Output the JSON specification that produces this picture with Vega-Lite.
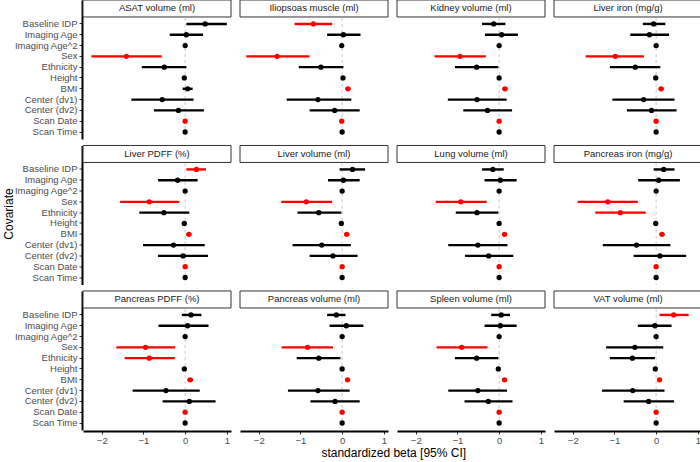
{
  "$schema": "https://vega.github.io/schema/vega-lite/v6.json",
  "padding": {"left": 2, "top": -2, "right": 0, "bottom": 1},
  "background": "white",
  "title": {"text": "standardized beta [95% CI]", "orient": "bottom", "anchor": "middle", "dx": 41, "offset": 3, "fontSize": 12, "fontWeight": "normal", "font": "Liberation Sans", "color": "#000000"},
  "data": {"values": [
    {"p":"ASAT volume (ml)","c":"Baseline IDP","b":0.48,"lo":0.03,"hi":1.0,"s":0},
    {"p":"ASAT volume (ml)","c":"Imaging Age","b":0.03,"lo":-0.37,"hi":0.43,"s":0},
    {"p":"ASAT volume (ml)","c":"Imaging Age^2","b":0,"lo":-0.02,"hi":0.02,"s":0},
    {"p":"ASAT volume (ml)","c":"Sex","b":-1.41,"lo":-2.25,"hi":-0.56,"s":1},
    {"p":"ASAT volume (ml)","c":"Ethnicity","b":-0.5,"lo":-1.04,"hi":0.03,"s":0},
    {"p":"ASAT volume (ml)","c":"Height","b":-0.02,"lo":-0.04,"hi":0.0,"s":0},
    {"p":"ASAT volume (ml)","c":"BMI","b":0.06,"lo":-0.06,"hi":0.18,"s":0},
    {"p":"ASAT volume (ml)","c":"Center (dv1)","b":-0.55,"lo":-1.29,"hi":0.2,"s":0},
    {"p":"ASAT volume (ml)","c":"Center (dv2)","b":-0.16,"lo":-0.75,"hi":0.45,"s":0},
    {"p":"ASAT volume (ml)","c":"Scan Date","b":0,"lo":-0.02,"hi":0.02,"s":1},
    {"p":"ASAT volume (ml)","c":"Scan Time","b":0,"lo":-0.02,"hi":0.02,"s":0},

    {"p":"Iliopsoas muscle (ml)","c":"Baseline IDP","b":-0.69,"lo":-1.14,"hi":-0.24,"s":1},
    {"p":"Iliopsoas muscle (ml)","c":"Imaging Age","b":0.03,"lo":-0.36,"hi":0.44,"s":0},
    {"p":"Iliopsoas muscle (ml)","c":"Imaging Age^2","b":-0.01,"lo":-0.03,"hi":0.01,"s":0},
    {"p":"Iliopsoas muscle (ml)","c":"Sex","b":-1.56,"lo":-2.3,"hi":-0.78,"s":1},
    {"p":"Iliopsoas muscle (ml)","c":"Ethnicity","b":-0.51,"lo":-1.04,"hi":0.03,"s":0},
    {"p":"Iliopsoas muscle (ml)","c":"Height","b":0.02,"lo":0.0,"hi":0.04,"s":0},
    {"p":"Iliopsoas muscle (ml)","c":"BMI","b":0.14,"lo":0.08,"hi":0.2,"s":1},
    {"p":"Iliopsoas muscle (ml)","c":"Center (dv1)","b":-0.58,"lo":-1.33,"hi":0.22,"s":0},
    {"p":"Iliopsoas muscle (ml)","c":"Center (dv2)","b":-0.18,"lo":-0.78,"hi":0.42,"s":0},
    {"p":"Iliopsoas muscle (ml)","c":"Scan Date","b":-0.01,"lo":-0.03,"hi":0.01,"s":1},
    {"p":"Iliopsoas muscle (ml)","c":"Scan Time","b":0,"lo":-0.02,"hi":0.02,"s":0},

    {"p":"Kidney volume (ml)","c":"Baseline IDP","b":-0.13,"lo":-0.41,"hi":0.15,"s":0},
    {"p":"Kidney volume (ml)","c":"Imaging Age","b":0.06,"lo":-0.34,"hi":0.45,"s":0},
    {"p":"Kidney volume (ml)","c":"Imaging Age^2","b":0,"lo":-0.02,"hi":0.02,"s":0},
    {"p":"Kidney volume (ml)","c":"Sex","b":-0.94,"lo":-1.55,"hi":-0.32,"s":1},
    {"p":"Kidney volume (ml)","c":"Ethnicity","b":-0.54,"lo":-1.06,"hi":-0.02,"s":0},
    {"p":"Kidney volume (ml)","c":"Height","b":0,"lo":-0.02,"hi":0.02,"s":0},
    {"p":"Kidney volume (ml)","c":"BMI","b":0.14,"lo":0.08,"hi":0.2,"s":1},
    {"p":"Kidney volume (ml)","c":"Center (dv1)","b":-0.53,"lo":-1.23,"hi":0.18,"s":0},
    {"p":"Kidney volume (ml)","c":"Center (dv2)","b":-0.28,"lo":-0.86,"hi":0.31,"s":0},
    {"p":"Kidney volume (ml)","c":"Scan Date","b":0,"lo":-0.02,"hi":0.02,"s":1},
    {"p":"Kidney volume (ml)","c":"Scan Time","b":0,"lo":-0.02,"hi":0.02,"s":0},

    {"p":"Liver iron (mg/g)","c":"Baseline IDP","b":-0.06,"lo":-0.32,"hi":0.22,"s":0},
    {"p":"Liver iron (mg/g)","c":"Imaging Age","b":-0.16,"lo":-0.62,"hi":0.31,"s":0},
    {"p":"Liver iron (mg/g)","c":"Imaging Age^2","b":0,"lo":-0.02,"hi":0.02,"s":0},
    {"p":"Liver iron (mg/g)","c":"Sex","b":-0.98,"lo":-1.69,"hi":-0.29,"s":1},
    {"p":"Liver iron (mg/g)","c":"Ethnicity","b":-0.5,"lo":-1.11,"hi":0.1,"s":0},
    {"p":"Liver iron (mg/g)","c":"Height","b":-0.01,"lo":-0.03,"hi":0.01,"s":0},
    {"p":"Liver iron (mg/g)","c":"BMI","b":0.12,"lo":0.06,"hi":0.18,"s":1},
    {"p":"Liver iron (mg/g)","c":"Center (dv1)","b":-0.3,"lo":-1.05,"hi":0.44,"s":0},
    {"p":"Liver iron (mg/g)","c":"Center (dv2)","b":-0.11,"lo":-0.7,"hi":0.49,"s":0},
    {"p":"Liver iron (mg/g)","c":"Scan Date","b":0,"lo":-0.02,"hi":0.02,"s":1},
    {"p":"Liver iron (mg/g)","c":"Scan Time","b":0,"lo":-0.02,"hi":0.02,"s":0},

    {"p":"Liver PDFF (%)","c":"Baseline IDP","b":0.27,"lo":0.03,"hi":0.5,"s":1},
    {"p":"Liver PDFF (%)","c":"Imaging Age","b":-0.18,"lo":-0.65,"hi":0.3,"s":0},
    {"p":"Liver PDFF (%)","c":"Imaging Age^2","b":0,"lo":-0.02,"hi":0.02,"s":0},
    {"p":"Liver PDFF (%)","c":"Sex","b":-0.86,"lo":-1.56,"hi":-0.14,"s":1},
    {"p":"Liver PDFF (%)","c":"Ethnicity","b":-0.51,"lo":-1.1,"hi":0.1,"s":0},
    {"p":"Liver PDFF (%)","c":"Height","b":-0.02,"lo":-0.04,"hi":0.0,"s":0},
    {"p":"Liver PDFF (%)","c":"BMI","b":0.09,"lo":0.03,"hi":0.15,"s":1},
    {"p":"Liver PDFF (%)","c":"Center (dv1)","b":-0.28,"lo":-1.01,"hi":0.47,"s":0},
    {"p":"Liver PDFF (%)","c":"Center (dv2)","b":-0.05,"lo":-0.65,"hi":0.55,"s":0},
    {"p":"Liver PDFF (%)","c":"Scan Date","b":0,"lo":-0.02,"hi":0.02,"s":1},
    {"p":"Liver PDFF (%)","c":"Scan Time","b":0,"lo":-0.02,"hi":0.02,"s":0},

    {"p":"Liver volume (ml)","c":"Baseline IDP","b":0.25,"lo":-0.06,"hi":0.55,"s":0},
    {"p":"Liver volume (ml)","c":"Imaging Age","b":0.03,"lo":-0.34,"hi":0.42,"s":0},
    {"p":"Liver volume (ml)","c":"Imaging Age^2","b":0,"lo":-0.02,"hi":0.02,"s":0},
    {"p":"Liver volume (ml)","c":"Sex","b":-0.86,"lo":-1.46,"hi":-0.24,"s":1},
    {"p":"Liver volume (ml)","c":"Ethnicity","b":-0.56,"lo":-1.07,"hi":-0.02,"s":0},
    {"p":"Liver volume (ml)","c":"Height","b":-0.02,"lo":-0.04,"hi":0.0,"s":0},
    {"p":"Liver volume (ml)","c":"BMI","b":0.11,"lo":0.05,"hi":0.17,"s":1},
    {"p":"Liver volume (ml)","c":"Center (dv1)","b":-0.49,"lo":-1.19,"hi":0.21,"s":0},
    {"p":"Liver volume (ml)","c":"Center (dv2)","b":-0.22,"lo":-0.78,"hi":0.37,"s":0},
    {"p":"Liver volume (ml)","c":"Scan Date","b":0,"lo":-0.02,"hi":0.02,"s":1},
    {"p":"Liver volume (ml)","c":"Scan Time","b":0,"lo":-0.02,"hi":0.02,"s":0},

    {"p":"Lung volume (ml)","c":"Baseline IDP","b":-0.15,"lo":-0.41,"hi":0.11,"s":0},
    {"p":"Lung volume (ml)","c":"Imaging Age","b":0.03,"lo":-0.35,"hi":0.42,"s":0},
    {"p":"Lung volume (ml)","c":"Imaging Age^2","b":0,"lo":-0.02,"hi":0.02,"s":0},
    {"p":"Lung volume (ml)","c":"Sex","b":-0.92,"lo":-1.52,"hi":-0.3,"s":1},
    {"p":"Lung volume (ml)","c":"Ethnicity","b":-0.53,"lo":-1.04,"hi":-0.02,"s":0},
    {"p":"Lung volume (ml)","c":"Height","b":0,"lo":-0.02,"hi":0.02,"s":0},
    {"p":"Lung volume (ml)","c":"BMI","b":0.13,"lo":0.07,"hi":0.19,"s":1},
    {"p":"Lung volume (ml)","c":"Center (dv1)","b":-0.51,"lo":-1.22,"hi":0.2,"s":0},
    {"p":"Lung volume (ml)","c":"Center (dv2)","b":-0.25,"lo":-0.82,"hi":0.34,"s":0},
    {"p":"Lung volume (ml)","c":"Scan Date","b":0,"lo":-0.02,"hi":0.02,"s":1},
    {"p":"Lung volume (ml)","c":"Scan Time","b":0,"lo":-0.02,"hi":0.02,"s":0},

    {"p":"Pancreas iron (mg/g)","c":"Baseline IDP","b":0.18,"lo":-0.06,"hi":0.44,"s":0},
    {"p":"Pancreas iron (mg/g)","c":"Imaging Age","b":0.06,"lo":-0.43,"hi":0.57,"s":0},
    {"p":"Pancreas iron (mg/g)","c":"Imaging Age^2","b":0,"lo":-0.02,"hi":0.02,"s":0},
    {"p":"Pancreas iron (mg/g)","c":"Sex","b":-1.16,"lo":-1.88,"hi":-0.44,"s":1},
    {"p":"Pancreas iron (mg/g)","c":"Ethnicity","b":-0.86,"lo":-1.46,"hi":-0.25,"s":1},
    {"p":"Pancreas iron (mg/g)","c":"Height","b":-0.01,"lo":-0.03,"hi":0.01,"s":0},
    {"p":"Pancreas iron (mg/g)","c":"BMI","b":0.14,"lo":0.08,"hi":0.2,"s":1},
    {"p":"Pancreas iron (mg/g)","c":"Center (dv1)","b":-0.47,"lo":-1.28,"hi":0.34,"s":0},
    {"p":"Pancreas iron (mg/g)","c":"Center (dv2)","b":0.09,"lo":-0.54,"hi":0.72,"s":0},
    {"p":"Pancreas iron (mg/g)","c":"Scan Date","b":0,"lo":-0.02,"hi":0.02,"s":1},
    {"p":"Pancreas iron (mg/g)","c":"Scan Time","b":0,"lo":-0.02,"hi":0.02,"s":0},

    {"p":"Pancreas PDFF (%)","c":"Baseline IDP","b":0.14,"lo":-0.08,"hi":0.39,"s":0},
    {"p":"Pancreas PDFF (%)","c":"Imaging Age","b":0.06,"lo":-0.64,"hi":0.56,"s":0},
    {"p":"Pancreas PDFF (%)","c":"Imaging Age^2","b":0,"lo":-0.02,"hi":0.02,"s":0},
    {"p":"Pancreas PDFF (%)","c":"Sex","b":-0.95,"lo":-1.65,"hi":-0.24,"s":1},
    {"p":"Pancreas PDFF (%)","c":"Ethnicity","b":-0.86,"lo":-1.45,"hi":-0.25,"s":1},
    {"p":"Pancreas PDFF (%)","c":"Height","b":-0.02,"lo":-0.04,"hi":0.0,"s":0},
    {"p":"Pancreas PDFF (%)","c":"BMI","b":0.12,"lo":0.05,"hi":0.19,"s":1},
    {"p":"Pancreas PDFF (%)","c":"Center (dv1)","b":-0.46,"lo":-1.26,"hi":0.35,"s":0},
    {"p":"Pancreas PDFF (%)","c":"Center (dv2)","b":0.1,"lo":-0.54,"hi":0.73,"s":0},
    {"p":"Pancreas PDFF (%)","c":"Scan Date","b":0,"lo":-0.02,"hi":0.02,"s":1},
    {"p":"Pancreas PDFF (%)","c":"Scan Time","b":0,"lo":-0.02,"hi":0.02,"s":0},

    {"p":"Pancreas volume (ml)","c":"Baseline IDP","b":-0.14,"lo":-0.36,"hi":0.08,"s":0},
    {"p":"Pancreas volume (ml)","c":"Imaging Age","b":0.1,"lo":-0.3,"hi":0.51,"s":0},
    {"p":"Pancreas volume (ml)","c":"Imaging Age^2","b":0,"lo":-0.02,"hi":0.02,"s":0},
    {"p":"Pancreas volume (ml)","c":"Sex","b":-0.83,"lo":-1.45,"hi":-0.22,"s":1},
    {"p":"Pancreas volume (ml)","c":"Ethnicity","b":-0.56,"lo":-1.09,"hi":-0.04,"s":0},
    {"p":"Pancreas volume (ml)","c":"Height","b":0,"lo":-0.02,"hi":0.02,"s":0},
    {"p":"Pancreas volume (ml)","c":"BMI","b":0.13,"lo":0.07,"hi":0.19,"s":1},
    {"p":"Pancreas volume (ml)","c":"Center (dv1)","b":-0.58,"lo":-1.3,"hi":0.18,"s":0},
    {"p":"Pancreas volume (ml)","c":"Center (dv2)","b":-0.17,"lo":-0.76,"hi":0.42,"s":0},
    {"p":"Pancreas volume (ml)","c":"Scan Date","b":0,"lo":-0.02,"hi":0.02,"s":1},
    {"p":"Pancreas volume (ml)","c":"Scan Time","b":0,"lo":-0.02,"hi":0.02,"s":0},

    {"p":"Spleen volume (ml)","c":"Baseline IDP","b":0.05,"lo":-0.19,"hi":0.26,"s":0},
    {"p":"Spleen volume (ml)","c":"Imaging Age","b":0.03,"lo":-0.35,"hi":0.42,"s":0},
    {"p":"Spleen volume (ml)","c":"Imaging Age^2","b":0,"lo":-0.02,"hi":0.02,"s":0},
    {"p":"Spleen volume (ml)","c":"Sex","b":-0.9,"lo":-1.5,"hi":-0.28,"s":1},
    {"p":"Spleen volume (ml)","c":"Ethnicity","b":-0.54,"lo":-1.06,"hi":-0.02,"s":0},
    {"p":"Spleen volume (ml)","c":"Height","b":-0.02,"lo":-0.04,"hi":0.0,"s":0},
    {"p":"Spleen volume (ml)","c":"BMI","b":0.13,"lo":0.07,"hi":0.19,"s":1},
    {"p":"Spleen volume (ml)","c":"Center (dv1)","b":-0.51,"lo":-1.22,"hi":0.19,"s":0},
    {"p":"Spleen volume (ml)","c":"Center (dv2)","b":-0.26,"lo":-0.83,"hi":0.32,"s":0},
    {"p":"Spleen volume (ml)","c":"Scan Date","b":0,"lo":-0.02,"hi":0.02,"s":1},
    {"p":"Spleen volume (ml)","c":"Scan Time","b":0,"lo":-0.02,"hi":0.02,"s":0},

    {"p":"VAT volume (ml)","c":"Baseline IDP","b":0.42,"lo":0.08,"hi":0.78,"s":1},
    {"p":"VAT volume (ml)","c":"Imaging Age","b":-0.03,"lo":-0.44,"hi":0.37,"s":0},
    {"p":"VAT volume (ml)","c":"Imaging Age^2","b":0,"lo":-0.02,"hi":0.02,"s":0},
    {"p":"VAT volume (ml)","c":"Sex","b":-0.51,"lo":-1.2,"hi":0.17,"s":0},
    {"p":"VAT volume (ml)","c":"Ethnicity","b":-0.57,"lo":-1.11,"hi":-0.03,"s":0},
    {"p":"VAT volume (ml)","c":"Height","b":-0.02,"lo":-0.04,"hi":0.0,"s":0},
    {"p":"VAT volume (ml)","c":"BMI","b":0.08,"lo":0.02,"hi":0.14,"s":1},
    {"p":"VAT volume (ml)","c":"Center (dv1)","b":-0.56,"lo":-1.3,"hi":0.2,"s":0},
    {"p":"VAT volume (ml)","c":"Center (dv2)","b":-0.18,"lo":-0.78,"hi":0.43,"s":0},
    {"p":"VAT volume (ml)","c":"Scan Date","b":0,"lo":-0.02,"hi":0.02,"s":1},
    {"p":"VAT volume (ml)","c":"Scan Time","b":0,"lo":-0.02,"hi":0.02,"s":0}
  ]},
  "facet": {
    "field": "p", "type": "nominal",
    "sort": ["ASAT volume (ml)","Iliopsoas muscle (ml)","Kidney volume (ml)","Liver iron (mg/g)","Liver PDFF (%)","Liver volume (ml)","Lung volume (ml)","Pancreas iron (mg/g)","Pancreas PDFF (%)","Pancreas volume (ml)","Spleen volume (ml)","VAT volume (ml)"],
    "title": "Covariate",
    "header": {"labels": false, "labelExpr": "''", "labelFontSize": 1, "labelPadding": 0, "titleOrient": "left", "titleAngle": 270, "titleFontSize": 12, "titleFont": "Liberation Sans", "titleFontWeight": "normal", "titleColor": "#000000", "titlePadding": -15}
  },
  "columns": 4,
  "spacing": {"column": 7, "row": 3.5},
  "spec": {
    "width": 148,
    "height": 139,
    "layer": [
      {
        "transform": [{"filter": "datum.c === 'Baseline IDP'"}],
        "mark": {"type": "rule", "strokeDash": [3, 3], "color": "#BDBDBD", "strokeWidth": 0.8},
        "encoding": {"x": {"datum": 0, "type": "quantitative"}}
      },
      {
        "transform": [{"filter": "datum.c === 'Baseline IDP'"}],
        "mark": {"type": "rect", "fill": "white", "stroke": "#333333", "strokeWidth": 1, "height": 17, "yOffset": -4.65},
        "encoding": {
          "x": {"datum": -2.45, "type": "quantitative"},
          "x2": {"datum": 1.1},
          "y": {"datum": " ", "type": "nominal"}
        }
      },
      {
        "transform": [{"filter": "datum.c === 'Baseline IDP'"}],
        "mark": {"type": "text", "fontSize": 9.5, "color": "#1A1A1A", "font": "Liberation Sans", "yOffset": -4.65, "baseline": "middle", "align": "center"},
        "encoding": {
          "x": {"datum": -0.675, "type": "quantitative"},
          "y": {"datum": " ", "type": "nominal"},
          "text": {"field": "p"}
        }
      },
      {
        "mark": {"type": "rule", "strokeWidth": 2.4},
        "encoding": {
          "x": {"field": "lo", "type": "quantitative",
                "scale": {"domain": [-2.45, 1.1], "nice": false, "zero": false},
                "axis": {"values": [-2, -1, 0, 1], "title": null, "domain": true, "domainColor": "#000000", "domainWidth": 2, "ticks": true, "labelPadding": 1}},
          "x2": {"field": "hi"},
          "y": {"field": "c", "type": "nominal",
                "scale": {"domain": [" ","Baseline IDP","Imaging Age","Imaging Age^2","Sex","Ethnicity","Height","BMI","Center (dv1)","Center (dv2)","Scan Date","Scan Time"], "paddingInner": 0, "paddingOuter": 0.43, "align": 0.83},
                "axis": {"title": null, "domain": true, "domainColor": "#000000", "domainWidth": 2, "ticks": true, "tickColor": "#333333",
                         "tickOpacity": {"condition": {"test": "datum.value === ' '", "value": 0}, "value": 1}}},
          "color": {"field": "s", "type": "nominal", "scale": {"domain": [0, 1], "range": ["#000000", "#FF0000"]}, "legend": null}
        }
      },
      {
        "mark": {"type": "circle", "size": 28, "opacity": 1},
        "encoding": {
          "x": {"field": "b", "type": "quantitative"},
          "y": {"field": "c", "type": "nominal"},
          "color": {"field": "s", "type": "nominal"}
        }
      }
    ]
  },
  "config": {
    "view": {"stroke": null},
    "axis": {
      "grid": false,
      "labelFont": "Liberation Sans",
      "titleFont": "Liberation Sans",
      "tickColor": "#333333",
      "tickSize": 3,
      "labelColor": "#4D4D4D",
      "labelFontSize": 9.5,
      "labelPadding": 2,
      "titleFontWeight": "normal",
      "titleFontSize": 12,
      "titleColor": "#000000",
      "titlePadding": 3
    }
  }
}
